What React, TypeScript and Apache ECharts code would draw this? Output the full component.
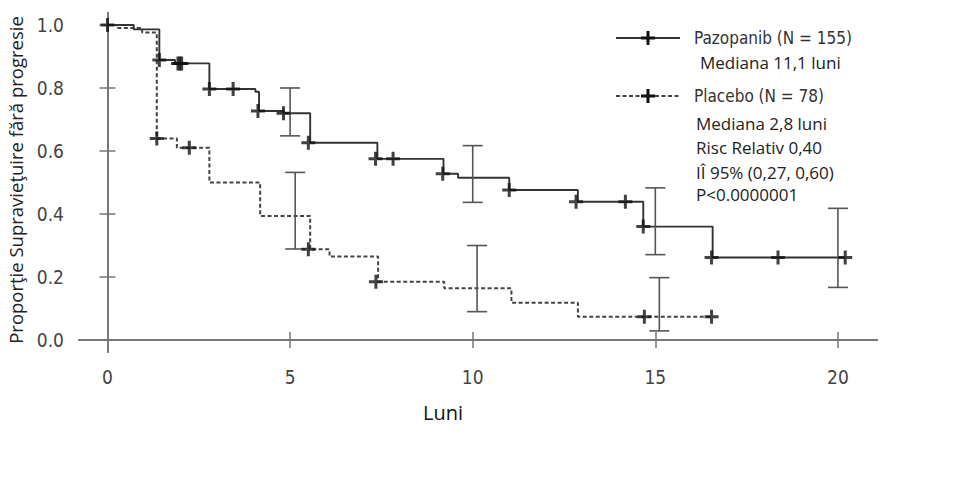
import React, { useEffect, useRef } from "react";
import * as echarts from "echarts";

// Pazopanib Kaplan-Meier step curve (time in months, survival proportion)
const pazTimes = [0, 0.72, 1.42, 1.85, 2.79, 4.05, 4.15, 4.82, 5.55, 7.39, 9.2, 9.6, 11.0, 12.88, 14.67, 16.57, 20.2];
const pazSurv = [1.0, 0.986, 0.889, 0.878, 0.797, 0.788, 0.727, 0.72, 0.626, 0.575, 0.528, 0.515, 0.476, 0.439, 0.36, 0.262, 0.262];
// Pazopanib censoring marks
const pazCensorTimes = [0, 1.42, 1.93, 1.98, 2.03, 2.79, 3.44, 4.12, 4.82, 5.5, 7.34, 7.82, 9.18, 11.0, 12.83, 14.18, 14.67, 16.54, 18.36, 20.2];
const pazCensorSurv = [1.0, 0.889, 0.878, 0.878, 0.878, 0.797, 0.797, 0.727, 0.72, 0.626, 0.575, 0.575, 0.528, 0.476, 0.439, 0.439, 0.36, 0.262, 0.262, 0.262];
// Pazopanib confidence intervals [time, low, high]
const pazCITimes = [5, 10, 15, 20];
const pazCILow = [0.648, 0.437, 0.271, 0.167];
const pazCIHigh = [0.8, 0.617, 0.483, 0.418];

// Placebo curve
const plaTimes = [0, 0.25, 0.95, 1.35, 1.9, 2.79, 4.18, 5.55, 6.08, 7.41, 9.22, 11.06, 12.88, 16.54];
const plaSurv = [1.0, 0.99, 0.976, 0.64, 0.61, 0.5, 0.394, 0.288, 0.265, 0.185, 0.164, 0.118, 0.074, 0.074];
const plaCensorTimes = [1.35, 2.24, 5.5, 7.35, 14.7, 16.54];
const plaCensorSurv = [0.64, 0.61, 0.288, 0.185, 0.074, 0.074];
const plaCITimes = [5.14, 10.12, 15.11];
const plaCILow = [0.289, 0.09, 0.029];
const plaCIHigh = [0.532, 0.3, 0.198];

const xTicks = [0, 5, 10, 15, 20];
const yTicks = [0, 0.2, 0.4, 0.6, 0.8, 1.0];

const legendTexts = ["Pazopanib (N = 155)", "Placebo (N = 78)"];
const noteTexts = ["Mediana 11,1 luni", "Mediana 2,8 luni", "Risc Relativ 0,40", "IÎ 95% (0,27, 0,60)", "P<0.0000001"];

const NARROW = "'Liberation Sans Narrow', 'DejaVu Sans Condensed', Arial, sans-serif";
const SANS = "'Open Sans', 'Noto Sans', sans-serif";
const PLUS = "path://M5.5,0H8.5V5.5H14V8.5H8.5V14H5.5V8.5H0V5.5H5.5Z";

function zip2(a: number[], b: number[]) {
  return a.map((v, i) => [v, b[i]]);
}
function zip3(a: number[], b: number[], c: number[]) {
  return a.map((v, i) => [v, b[i], c[i]]);
}

function errRender(params: any, api: any) {
  const x = api.value(0);
  const lo = api.coord([x, api.value(1)]);
  const hi = api.coord([x, api.value(2)]);
  const w = 10;
  const style = { stroke: "#555", lineWidth: 1.6 };
  return {
    type: "group",
    children: [
      { type: "line", shape: { x1: lo[0], y1: lo[1], x2: hi[0], y2: hi[1] }, style },
      { type: "line", shape: { x1: lo[0] - w, y1: lo[1], x2: lo[0] + w, y2: lo[1] }, style },
      { type: "line", shape: { x1: hi[0] - w, y1: hi[1], x2: hi[0] + w, y2: hi[1] }, style },
    ],
  };
}

function plusGraphic(cx: number, cy: number) {
  return [
    { type: "rect", shape: { x: cx - 7, y: cy - 1.5, width: 14, height: 3 }, style: { fill: "#111" } },
    { type: "rect", shape: { x: cx - 1.5, y: cy - 7, width: 3, height: 14 }, style: { fill: "#111" } },
  ];
}

export default function App() {
  const ref = useRef<HTMLDivElement>(null);
  useEffect(() => {
    if (!ref.current) return;
    const chart = echarts.init(ref.current, null, { renderer: "svg" });
    const axisLine = { show: true, lineStyle: { color: "#777", width: 1.8 } };
    const axisTickStyle = { show: true, length: 8, lineStyle: { color: "#777", width: 1.5 } };
    const xMin = -0.78, xMax = 21.07, yMin = -0.038, yMax = 1.038;
    const option: any = {
      animation: false,
      backgroundColor: "#fff",
      grid: { left: 79, right: 78, top: 13, bottom: 137, show: false },
      xAxis: [
        {
          type: "value", position: "bottom", min: xMin, max: xMax,
          axisLine, splitLine: { show: false },
          axisTick: { ...axisTickStyle, customValues: xTicks },
          axisLabel: { customValues: xTicks, margin: 15, fontSize: 19, color: "#444", fontFamily: NARROW },
        },
        {
          type: "value", position: "top", min: xMin, max: xMax,
          axisLine, splitLine: { show: false },
          axisTick: { ...axisTickStyle, customValues: xTicks },
          axisLabel: { show: false },
        },
      ],
      yAxis: [
        {
          type: "value", position: "left", min: yMin, max: yMax,
          axisLine, splitLine: { show: false },
          axisTick: { ...axisTickStyle, customValues: yTicks },
          axisLabel: {
            customValues: yTicks, margin: 15, fontSize: 19, color: "#444", fontFamily: NARROW,
            formatter: (v: number) => v.toFixed(1),
          },
        },
        {
          type: "value", position: "right", min: yMin, max: yMax,
          axisLine, splitLine: { show: false },
          axisTick: { ...axisTickStyle, customValues: yTicks },
          axisLabel: { show: false },
        },
      ],
      series: [
        {
          type: "line", name: "Pazopanib", step: "end", data: zip2(pazTimes, pazSurv),
          showSymbol: false, lineStyle: { color: "#333", width: 1.9 }, z: 3,
        },
        {
          type: "line", name: "Placebo", step: "end", data: zip2(plaTimes, plaSurv),
          showSymbol: false, lineStyle: { color: "#444", width: 2, type: [4, 2.5] }, z: 2,
        },
        {
          type: "scatter", data: zip2(pazCensorTimes, pazCensorSurv), symbol: PLUS, symbolSize: 14,
          itemStyle: { color: "#111" }, z: 5,
        },
        {
          type: "scatter", data: zip2(plaCensorTimes, plaCensorSurv), symbol: PLUS, symbolSize: 14,
          itemStyle: { color: "#111" }, z: 5,
        },
        { type: "custom", data: zip3(pazCITimes, pazCILow, pazCIHigh), renderItem: errRender, z: 4 },
        { type: "custom", data: zip3(plaCITimes, plaCILow, plaCIHigh), renderItem: errRender, z: 4 },
      ],
      graphic: [
        {
          type: "text", x: 15, y: 180, rotation: Math.PI / 2,
          style: {
            text: "Proporţie Supravieţuire fără progresie", fontSize: 18.5, fontFamily: SANS,
            fill: "#222", align: "center", verticalAlign: "middle",
          },
        },
        {
          type: "text", x: 443, y: 412,
          style: { text: "Luni", fontSize: 20, fontFamily: SANS, fill: "#111", align: "center", verticalAlign: "middle" },
        },
        { type: "line", shape: { x1: 616, y1: 38, x2: 680, y2: 38 }, style: { stroke: "#333", lineWidth: 1.8 } },
        ...plusGraphic(648, 38),
        {
          type: "text", x: 694, y: 38,
          style: { text: legendTexts[0], fontSize: 17, fontFamily: NARROW, fill: "#333", verticalAlign: "middle" },
        },
        { type: "line", shape: { x1: 616, y1: 96, x2: 680, y2: 96 }, style: { stroke: "#444", lineWidth: 2, lineDash: [4, 2.5] } },
        ...plusGraphic(648, 96),
        {
          type: "text", x: 694, y: 96,
          style: { text: legendTexts[1], fontSize: 17, fontFamily: NARROW, fill: "#333", verticalAlign: "middle" },
        },
        {
          type: "text", x: 700, y: 62,
          style: { text: noteTexts[0], fontSize: 17, fontFamily: SANS, fill: "#222", verticalAlign: "middle" },
        },
        ...[123, 147, 172, 194].map((yy, i) => ({
          type: "text", x: 696, y: yy,
          style: { text: noteTexts[i + 1], fontSize: 17, fontFamily: SANS, fill: "#222", verticalAlign: "middle" },
        })),
      ],
    };
    chart.setOption(option);
    return () => chart.dispose();
  }, []);
  return <div ref={ref} style={{ width: 955, height: 489, position: "absolute", left: 0, top: 0 }} />;
}
